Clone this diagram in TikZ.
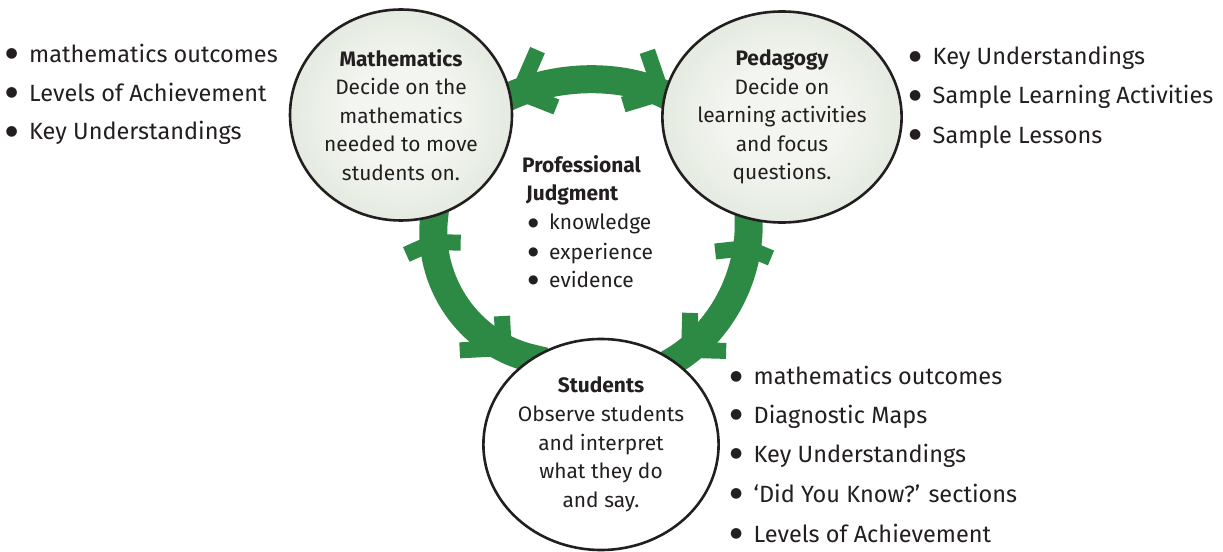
\documentclass[tikz,border=0pt]{standalone}
\usepackage{fontspec}
\setmainfont{Fira Sans}
\newfontfamily\dotfont{DejaVu Sans}
\usetikzlibrary{calc,backgrounds,decorations.markings,shapes.geometric}
\definecolor{bandgreen}{RGB}{44,138,68}
\definecolor{bubin}{RGB}{243,245,240}
\definecolor{bubout}{RGB}{200,215,195}
\definecolor{ink}{RGB}{35,31,32}
\pgfdeclareradialshading{bubbleshade}{\pgfpoint{0bp}{0bp}}{color(0bp)=(bubin); color(12bp)=(bubin); color(50bp)=(bubout)}
\newcommand\chevron[4]{\draw[draw=bandgreen, line width=16bp, line cap=butt, line join=miter] (#1:#2) -- (0,0) -- (#3:#4);}
\tikzset{
  bubble/.style={ellipse, draw=ink, line width=2.6bp, minimum width=222bp, minimum height=211bp,
    inner sep=0pt, align=center, text=ink, font=\fontsize{21}{28.75}\selectfont},
  shadedbubble/.style={bubble, shade, shading=bubbleshade},
  plainbubble/.style={bubble, fill=white},
  band/.style={draw=bandgreen, line width=28bp, line cap=butt},
  listitem/.style={anchor=base west, inner sep=0pt, text=ink, font=\fontsize{23.6}{30}\selectfont},
  pjitem/.style={anchor=base west, inner sep=0pt, text=ink, font=\fontsize{21}{28}\selectfont},
  marks/.style={postaction={decorate, decoration={markings, #1}}}
}
\newcommand\bul{\makebox[21bp][l]{\hspace*{-2.5bp}\raisebox{4.8bp}{\dotfont\fontsize{14}{14}\selectfont ●}}}
\newcommand\pbul{\makebox[19.7bp][l]{\hspace*{-1.5bp}\raisebox{3.4bp}{\dotfont\fontsize{12}{12}\selectfont ●}}}
\begin{document}
\begin{tikzpicture}[x=1bp,y=-1bp]
\useasboundingbox (0,0) rectangle (1223,552);

% circles
\node[shadedbubble] (m) at (401,115) {{\bfseries Mathematics}\\Decide on the\\mathematics\\needed to move\\students on.};
\node[shadedbubble] (p) at (782,117) {{\bfseries Pedagogy}\\Decide on\\learning activities\\and focus\\questions.};
\node[plainbubble] (s) at (601,444.5) {{\bfseries Students}\\Observe students\\and interpret\\what they do\\and say.};

% connectors
\begin{scope}[on background layer]
\fill[white] (0,0) rectangle (1223,552);
\draw[band, marks={mark=at position 22.4bp with {\chevron{45.5}{46bp}{-42.5}{40bp}},
                   mark=at position 168.2bp with {\chevron{133.1}{44bp}{-138.9}{40bp}}}]
  ($(m.10)!-14bp!(560.3,74)$) -- (m.10) .. controls (560.3,74) and (621.7,74) .. (p.169)
  -- ($(p.169)!-14bp!(621.7,74)$);
\draw[band, marks={mark=at position 39.2bp with {\chevron{84.6}{27bp}{-70.4}{30bp}},
                   mark=at position 171.7bp with {\chevron{120}{32bp}{-150}{44bp}}}]
  ($(m.-72.7)!-14bp!(426.7,282.2)$) -- (m.-72.7) .. controls (426.7,282.2) and (468.8,343.3) .. (s.129.5)
  -- ($(s.129.5)!-14bp!(468.8,343.3)$);
\draw[band, marks={mark=at position 42.4bp with {\chevron{-75.2}{32bp}{75.8}{26bp}},
                   mark=at position 162.3bp with {\chevron{-130.2}{37bp}{139.8}{37bp}}}]
  ($(p.-108.8)!-14bp!(750.5,276.3)$) -- (p.-108.8) .. controls (750.5,276.3) and (721.1,331.9) .. (s.49.4)
  -- ($(s.49.4)!-14bp!(721.1,331.9)$);
\end{scope}

% professional judgment
\node[pjitem] (pj1) at (522,172.7) {\bfseries Professional};
\node[pjitem] (pj2) at (526,201) {\bfseries Judgment};
\node[pjitem] (pj3) at (529.3,230) {\pbul knowledge};
\node[pjitem] (pj4) at (529.3,259.3) {\pbul experience};
\node[pjitem] (pj5) at (529.3,287.3) {\pbul evidence};

% left list
\node[listitem] (l1) at (8,62.3) {\bul mathematics outcomes};
\node[listitem] (l2) at (8,101.7) {\bul Levels of Achievement};
\node[listitem] (l3) at (8,140) {\bul Key Understandings};

% top right list
\node[listitem] (r1) at (911.5,65) {\bul Key Understandings};
\node[listitem] (r2) at (911.5,104) {\bul Sample Learning Activities};
\node[listitem] (r3) at (911.5,143.3) {\bul Sample Lessons};

% bottom right list
\node[listitem] (b1) at (732.5,385) {\bul mathematics outcomes};
\node[listitem] (b2) at (732.5,423.3) {\bul Diagnostic Maps};
\node[listitem] (b3) at (732.5,462.7) {\bul Key Understandings};
\node[listitem] (b4) at (732.5,502.7) {\bul ‘Did You Know?’ sections};
\node[listitem] (b5) at (732.5,542.7) {\bul Levels of Achievement};
\end{tikzpicture}
\end{document}
